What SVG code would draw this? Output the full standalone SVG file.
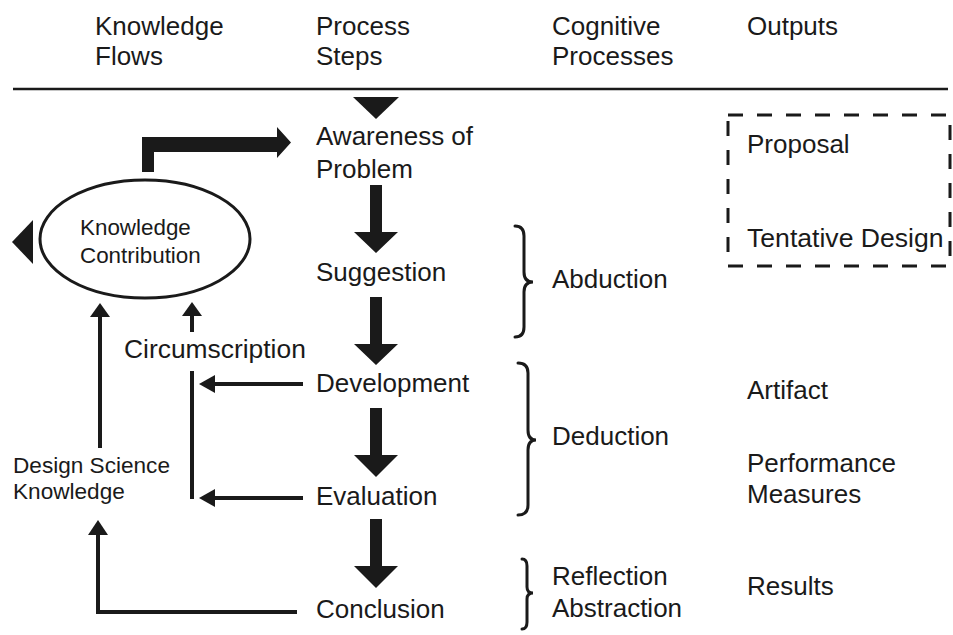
<svg xmlns="http://www.w3.org/2000/svg" width="953" height="635" viewBox="0 0 953 635">
<style>
text { font-family: "Liberation Sans", Arial, sans-serif; fill: #1a1a1a; }
.h { font-size: 26px; }
.t { font-size: 26px; }
.s { font-size: 22.4px; }
.line { stroke: #1a1a1a; stroke-width: 4; fill: none; }
.brace { stroke: #1a1a1a; stroke-width: 3; fill: none; stroke-linecap: round; }
.solid { fill: #1a1a1a; }
</style>
<rect width="953" height="635" fill="#ffffff"/>

<g id="header">
  <text class="h" x="95" y="35">Knowledge</text>
  <text class="h" x="95" y="65">Flows</text>
  <text class="h" x="316" y="35">Process</text>
  <text class="h" x="316" y="65">Steps</text>
  <text class="h" x="552" y="35">Cognitive</text>
  <text class="h" x="552" y="65">Processes</text>
  <text class="h" x="747" y="35">Outputs</text>
  <line x1="13" y1="89" x2="948" y2="89" stroke="#1a1a1a" stroke-width="2.5"/>
</g>

<g id="awareness"><text class="t" x="316" y="145">Awareness of</text><text class="t" x="316" y="178">Problem</text></g>
<g id="suggestion"><text class="t" x="316" y="281">Suggestion</text></g>
<g id="development"><text class="t" x="316" y="392">Development</text></g>
<g id="evaluation"><text class="t" x="316" y="505">Evaluation</text></g>
<g id="conclusion"><text class="t" x="316" y="618">Conclusion</text></g>

<g id="knowledge-contribution">
  <ellipse cx="145" cy="239" rx="105" ry="59" fill="none" stroke="#1a1a1a" stroke-width="3"/>
  <text class="s" x="80" y="235">Knowledge</text>
  <text class="s" x="80" y="263">Contribution</text>
</g>

<g id="design-science-knowledge">
  <text style="font-size:22.6px" x="13" y="473">Design Science</text>
  <text style="font-size:22.6px" x="13" y="499">Knowledge</text>
</g>

<g id="circumscription"><text style="font-size:26.4px" x="124" y="358">Circumscription</text></g>

<g id="abduction">
  <path class="brace" d="M515,226 Q524,226 524,236 L524,272 Q524,282 533,282 Q524,282 524,292 L524,327 Q524,337 515,337"/>
  <text class="t" x="552" y="288">Abduction</text>
</g>
<g id="deduction">
  <path class="brace" d="M518,363 Q528,363 528,373 L528,430 Q528,440 536,440 Q528,440 528,450 L528,505 Q528,515 518,515"/>
  <text class="t" x="552" y="445">Deduction</text>
</g>
<g id="reflection">
  <path class="brace" d="M522,559 Q527,559 527,566 L527,587 Q527,593 533,593 Q527,593 527,599 L527,622 Q527,629 522,629"/>
  <text class="t" x="552" y="585">Reflection</text>
  <text class="t" x="552" y="617">Abstraction</text>
</g>

<g id="proposal-box">
  <rect x="728" y="115" width="222" height="151" fill="none" stroke="#1a1a1a" stroke-width="3" stroke-dasharray="15,14"/>
  <text class="t" x="747" y="153">Proposal</text>
  <text style="font-size:26.6px" x="747" y="247">Tentative Design</text>
</g>
<g id="artifact"><text class="t" x="747" y="399">Artifact</text></g>
<g id="performance"><text class="t" x="747" y="472">Performance</text><text class="t" x="747" y="503">Measures</text></g>
<g id="results"><text class="t" x="747" y="595">Results</text></g>

<g id="connectors">
  <polygon class="solid" points="353,97 399,97 376,119"/>
  <polygon class="solid" points="370,185 382,185 382,232 398,232 376,253 354,232 370,232"/>
  <polygon class="solid" points="370,297 382,297 382,344 398,344 376,365 354,344 370,344"/>
  <polygon class="solid" points="370,408 382,408 382,455 398,455 376,477 354,455 370,455"/>
  <polygon class="solid" points="370,519 382,519 382,566 398,566 376,588 354,566 370,566"/>
  <polygon class="solid" points="142,172 142,137 277,137 277,127 291,142.5 277,158 277,152 154,152 154,172"/>
  <polygon class="solid" points="33,220 33,264 12,242"/>
  <line class="line" x1="100" y1="448" x2="100" y2="314"/>
  <polygon class="solid" points="100,303 110,317 90,317"/>
  <line class="line" x1="192" y1="332" x2="192" y2="313"/>
  <polygon class="solid" points="192,302 202,316 182,316"/>
  <line class="line" x1="192" y1="371" x2="192" y2="499"/>
  <line class="line" x1="303" y1="384" x2="212" y2="384"/>
  <polygon class="solid" points="199,384 215,375 215,393"/>
  <line class="line" x1="303" y1="498" x2="212" y2="498"/>
  <polygon class="solid" points="199,498 215,489 215,507"/>
  <polyline class="line" points="297,612 98,612 98,532"/>
  <polygon class="solid" points="98,520 108,535 88,535"/>
</g>
</svg>
